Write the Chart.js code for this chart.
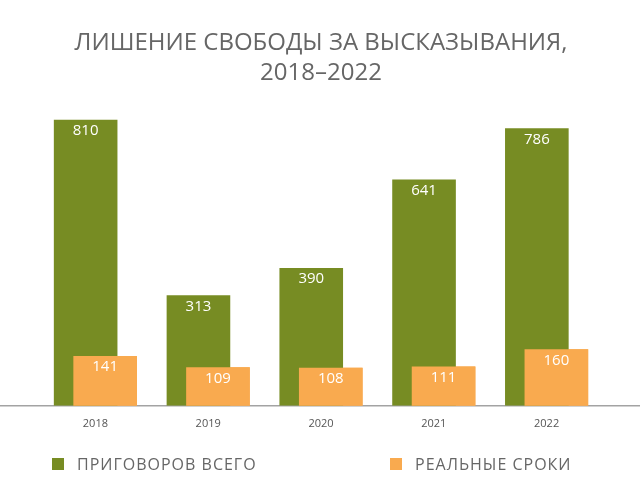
<!DOCTYPE html>
<html>
<head>
<meta charset="utf-8">
<script src="https://cdn.jsdelivr.net/npm/chart.js@4.4.1/dist/chart.umd.min.js"></script>
<style>
  html, body { margin: 0; padding: 0; background: #fff; }
  .wrap { position: relative; width: 640px; height: 498px; }
  .legend { position: absolute; top: 453px; left: 0; width: 640px; height: 20px;
            font-family: "Open Sans", sans-serif; font-size: 16px; color: #666; letter-spacing: 1px; }
  .legend span.item { position: absolute; top: 0; display: flex; align-items: center; white-space: nowrap; }
  .legend i { display: inline-block; width: 12px; height: 12px; margin-right: 13px; }
</style>
</head>
<body>
<div class="wrap">
  <canvas id="chart" width="640" height="498"></canvas>
  <div class="legend" id="legend"></div>
</div>
<script>
(function () {
  // datos
  const years = ['2018', '2019', '2020', '2021', '2022'];
  const totalSentences = [810, 313, 390, 641, 786];
  const realTerms = [141, 109, 108, 111, 160];
  const seriesNames = ['ПРИГОВОРОВ ВСЕГО', 'РЕАЛЬНЫЕ СРОКИ'];
  const titleLines = ['ЛИШЕНИЕ СВОБОДЫ ЗА ВЫСКАЗЫВАНИЯ,', '2018–2022'];

  const green = '#778c23';
  const orange = '#f9aa4f';
  const fontFamily = '"Open Sans", sans-serif';

  // linea base a todo el ancho + naranja encima + etiquetas
  const overlayPlugin = {
    id: 'overlay',
    beforeDatasetsDraw(chart) {
      const ctx = chart.ctx;
      const y0 = chart.scales.y.getPixelForValue(0);
      ctx.save();
      ctx.strokeStyle = '#a3a3a3';
      ctx.lineWidth = 1.5;
      ctx.beginPath();
      ctx.moveTo(0, y0);
      ctx.lineTo(chart.width, y0);
      ctx.stroke();
      ctx.restore();
    },
    afterDatasetsDraw(chart) {
      const ctx = chart.ctx;
      chart.getDatasetMeta(1).data.forEach((el) => el.draw(ctx));
      ctx.save();
      ctx.fillStyle = '#fff';
      ctx.font = '15px ' + fontFamily;
      ctx.textAlign = 'center';
      ctx.textBaseline = 'middle';
      chart.data.datasets.forEach((ds, i) => {
        chart.getDatasetMeta(i).data.forEach((el, j) => {
          ctx.fillText(String(ds.data[j]), el.x, el.y + 11);
        });
      });
      ctx.restore();
    }
  };

  new Chart(document.getElementById('chart'), {
    type: 'bar',
    data: {
      labels: years,
      datasets: [
        { label: seriesNames[0], data: totalSentences, backgroundColor: green },
        { label: seriesNames[1], data: realTerms, backgroundColor: orange }
      ]
    },
    options: {
      responsive: false,
      animation: false,
      events: [],
      categoryPercentage: 0.346,
      barPercentage: 3.26,
      layout: { padding: { left: 39, right: 37, top: 0, bottom: 57 } },
      plugins: {
        legend: { display: false },
        tooltip: { enabled: false },
        title: {
          display: true,
          text: titleLines,
          color: '#666',
          font: { family: fontFamily, size: 24, weight: 'normal', lineHeight: 1.25 },
          padding: { top: 28, bottom: 0 }
        }
      },
      scales: {
        x: {
          grid: { display: false, drawTicks: false },
          border: { display: false },
          ticks: { color: '#555', font: { family: fontFamily, size: 11 }, padding: 11 }
        },
        y: { display: false, min: 0, max: 900 }
      }
    },
    plugins: [overlayPlugin]
  });

  // leyenda
  const legend = document.getElementById('legend');
  const colors = [green, orange];
  const lefts = [52, 390];
  seriesNames.forEach((name, i) => {
    const item = document.createElement('span');
    item.className = 'item';
    item.style.left = lefts[i] + 'px';
    item.innerHTML = '<i style="background:' + colors[i] + '"></i>' + name;
    legend.appendChild(item);
  });
})();
</script>
</body>
</html>
